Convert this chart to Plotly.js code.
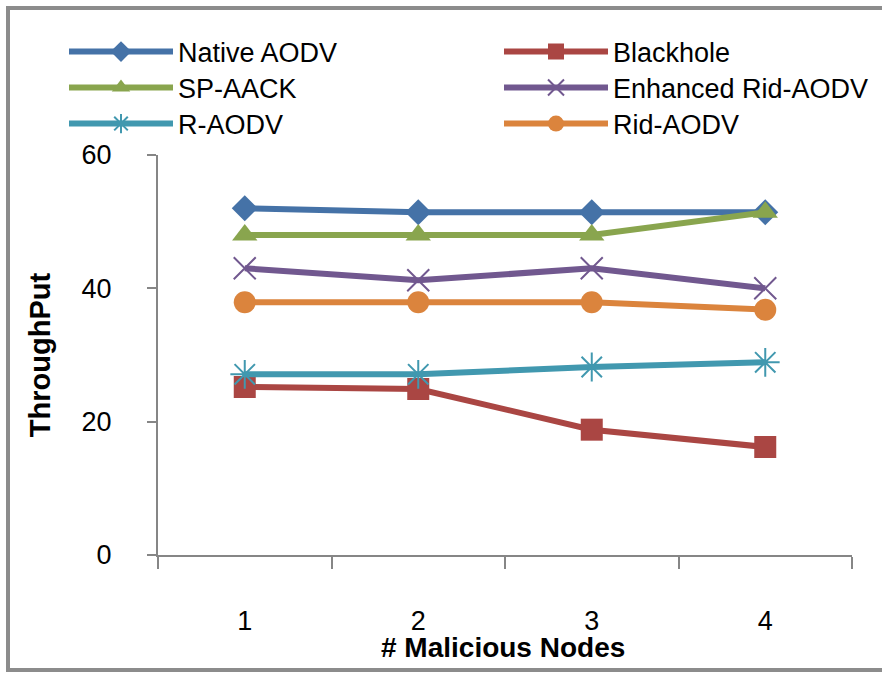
<!DOCTYPE html>
<html>
<head>
<meta charset="utf-8">
<script src="https://cdn.plot.ly/plotly-3.0.1.min.js"></script>
<style>
  html, body { margin: 0; padding: 0; background: #ffffff; overflow: hidden; }
  #wrap { position: relative; width: 882px; height: 673px; overflow: hidden; }
  #chart { position: absolute; left: 0; top: 0; width: 882px; height: 673px; }
  .bar { position: absolute; background: #8c8c8c; pointer-events: none; }
</style>
</head>
<body>
<div id="wrap">
  <div id="chart"></div>
  <div class="bar" style="left:6px; top:6px; width:876px; height:4px;"></div>
  <div class="bar" style="left:6px; top:6px; width:4px; height:666px;"></div>
  <div class="bar" style="left:6px; top:668px; width:876px; height:4px;"></div>
</div>
<script>
// ---- data ----
var categories = ['1', '2', '3', '4'];
var nativeAODV = [52, 51.4, 51.4, 51.4];
var blackhole = [25.2, 24.9, 18.8, 16.2];
var spAACK = [48, 48, 48, 51.4];
var enhancedRidAODV = [43, 41.2, 43, 40];
var rAODV = [27.1, 27.1, 28.2, 28.9];
var ridAODV = [37.9, 37.9, 37.9, 36.8];
var seriesNames = ['Native AODV', 'Blackhole', 'SP-AACK', 'Enhanced Rid-AODV', 'R-AODV', 'Rid-AODV'];
var yTickVals = [0, 20, 40, 60];

var FONT = 'Liberation Sans, Arial, sans-serif';

function mk(name, y, color, symbol, size, legendId, lineWidthMarker, open) {
  var marker = { symbol: symbol, size: size, color: color };
  if (open) {
    marker.line = { color: color, width: lineWidthMarker };
  } else {
    marker.line = { width: 0 };
  }
  return {
    type: 'scatter', mode: 'lines+markers', name: name,
    x: categories, y: y,
    line: { color: color, width: 6 },
    marker: marker,
    legend: legendId
  };
}

var data = [
  mk(seriesNames[0], nativeAODV, '#4572A7', 'diamond', 20, 'legend', 0, false),
  mk(seriesNames[1], blackhole, '#AA4643', 'square', 22, 'legend2', 0, false),
  mk(seriesNames[2], spAACK, '#89A54E', 'triangle-up', 22, 'legend3', 0, false),
  mk(seriesNames[3], enhancedRidAODV, '#71588F', 'x-thin-open', 22, 'legend4', 2, true),
  mk(seriesNames[4], rAODV, '#4198AF', 'asterisk-open', 24, 'legend5', 2, true),
  mk(seriesNames[5], ridAODV, '#DB843D', 'circle', 22, 'legend6', 0, false)
];

var plotH = 400, plotW = 694, plotL = 158;
function py(pix) { return (555 - pix) / plotH; }
function px(pix) { return (pix - plotL) / plotW; }

function leg(xpix, ypix) {
  return {
    orientation: 'v', x: px(xpix), xanchor: 'left', y: py(ypix), yanchor: 'middle',
    itemwidth: 104,
    font: { family: FONT, size: 27, color: '#000000' },
    bgcolor: 'rgba(0,0,0,0)', borderwidth: 0, traceorder: 'normal'
  };
}

var layout = {
  width: 882, height: 673,
  margin: { l: 158, r: 30, t: 155, b: 118, autoexpand: false },
  paper_bgcolor: '#ffffff', plot_bgcolor: '#ffffff',
  font: { family: FONT, size: 27, color: '#000000' },
  showlegend: true,
  legend: leg(64, 52),
  legend2: leg(499, 52),
  legend3: leg(64, 88),
  legend4: leg(499, 88),
  legend5: leg(64, 124),
  legend6: leg(499, 124),
  xaxis: {
    type: 'category', categoryarray: categories, range: [-0.5, 3.5],
    showgrid: false, zeroline: false,
    showline: true, linecolor: '#868686', linewidth: 2,
    ticks: 'outside', tickson: 'boundaries', ticklen: 12, tickcolor: '#868686', tickwidth: 2,
    tickfont: { family: FONT, size: 27, color: '#000000' },
    ticklabelstandoff: 41,
    automargin: false,
    fixedrange: true
  },
  yaxis: {
    range: [0, 60], tickvals: yTickVals, ticktext: yTickVals.map(String),
    showgrid: false, zeroline: false,
    showline: true, linecolor: '#868686', linewidth: 2,
    ticks: 'outside', ticklen: 9, tickcolor: '#868686', tickwidth: 2,
    tickfont: { family: FONT, size: 27, color: '#000000' },
    ticklabelstandoff: 30,
    title: { text: '<b>ThroughPut</b>', font: { family: FONT, size: 29, color: '#000000' }, standoff: 22 },
    automargin: false,
    fixedrange: true
  },
  annotations: [{
    text: '<b># Malicious Nodes</b>', xref: 'paper', yref: 'paper',
    x: 0.497, y: py(647), xanchor: 'center', yanchor: 'middle', showarrow: false,
    font: { family: FONT, size: 28, color: '#000000' }
  }]
};

Plotly.newPlot('chart', data, layout, { displayModeBar: false, staticPlot: true });
</script>
</body>
</html>
